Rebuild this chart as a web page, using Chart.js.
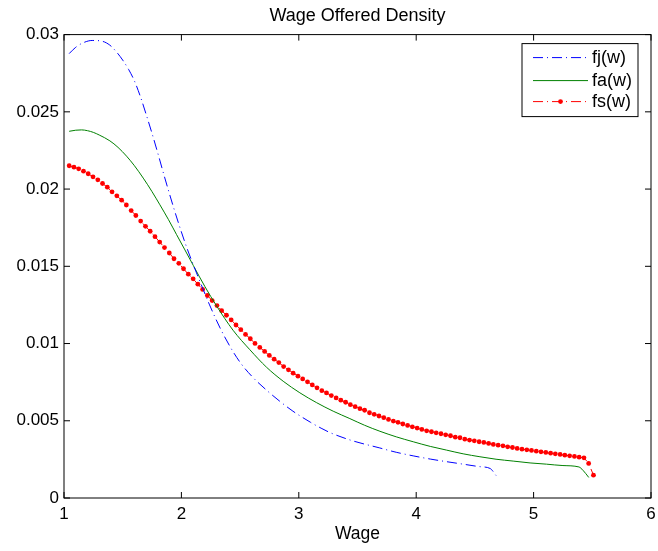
<!DOCTYPE html>
<html>
<head>
<meta charset="utf-8">
<script src="https://cdn.jsdelivr.net/npm/chart.js@4.4.0/dist/chart.umd.min.js"></script>
<style>
    body { margin: 0; background: #fff; }
    canvas { display: block; }
</style>
</head>
<body>
<canvas id="myChart" width="658" height="551"></canvas>
<script>
// data
const xTicks = [1, 2, 3, 4, 5, 6];
const yTicks = [0, 0.005, 0.01, 0.015, 0.02, 0.025, 0.03];

// fj(w): dash-dot blue
const fjWage = [1.044, 1.10, 1.16, 1.24, 1.32, 1.39, 1.45, 1.50, 1.55, 1.60, 1.65, 1.70, 1.75, 1.80, 1.85, 1.90, 1.95, 2.00, 2.05, 2.10,
    2.16, 2.24, 2.33, 2.43, 2.51, 2.61, 2.73, 2.84, 2.95, 3.10, 3.19, 3.27, 3.46, 3.69, 3.83, 3.98, 4.12, 4.26, 4.40, 4.54, 4.63, 4.68];
const fjW = [0.02877, 0.02918, 0.02946, 0.02962, 0.02958, 0.02932, 0.02885, 0.02835, 0.02775, 0.02700, 0.02600, 0.02483, 0.02360, 0.02230, 0.02095, 0.01965, 0.01840, 0.01722, 0.01612, 0.01512,
    0.01398, 0.01250, 0.01100, 0.00960, 0.00868, 0.00780, 0.00695, 0.00625, 0.00562, 0.00490, 0.00452, 0.00422, 0.00370, 0.00324, 0.00296, 0.00272, 0.00252, 0.00235, 0.00219, 0.00203, 0.00191, 0.00146];

// fa(w): solid green
const faWage = [1.044, 1.10, 1.15, 1.20, 1.25, 1.30, 1.391, 1.46, 1.533, 1.60, 1.675, 1.75, 1.817, 1.89, 1.959, 2.03, 2.101, 2.20, 2.30, 2.44,
    2.583, 2.726, 2.867, 3.009, 3.152, 3.293, 3.435, 3.56, 3.691, 3.83, 3.975, 4.12, 4.259, 4.40, 4.543, 4.68, 4.826, 4.97, 5.11, 5.25,
    5.386, 5.42, 5.47];
const faW = [0.02374, 0.02381, 0.02383, 0.02378, 0.02367, 0.02350, 0.02312, 0.02270, 0.02213, 0.02151, 0.02071, 0.01983, 0.01898, 0.01802, 0.01705, 0.01606, 0.01506, 0.01369, 0.01243, 0.01086,
    0.00960, 0.00846, 0.00756, 0.00681, 0.00617, 0.00562, 0.00514, 0.00471, 0.00432, 0.00396, 0.00364, 0.00334, 0.00310, 0.00286, 0.00267, 0.00251, 0.00239, 0.00227, 0.00219, 0.00210,
    0.00201, 0.00180, 0.00133];

// fs(w): red dash-dot with dot markers
const fsWage = [1.044, 1.085, 1.125, 1.166, 1.206, 1.247, 1.288, 1.328, 1.369, 1.409,
    1.450, 1.491, 1.531, 1.572, 1.612, 1.653, 1.694, 1.734, 1.775, 1.815,
    1.856, 1.897, 1.937, 1.978, 2.018, 2.059, 2.100, 2.140, 2.181, 2.221,
    2.262, 2.303, 2.343, 2.384, 2.424, 2.465, 2.506, 2.546, 2.587, 2.627,
    2.668, 2.709, 2.749, 2.790, 2.830, 2.871, 2.912, 2.952, 2.993, 3.033,
    3.074, 3.115, 3.155, 3.196, 3.236, 3.277, 3.318, 3.358, 3.399, 3.439,
    3.480, 3.521, 3.561, 3.602, 3.642, 3.683, 3.724, 3.764, 3.805, 3.845,
    3.886, 3.927, 3.967, 4.008, 4.048, 4.089, 4.130, 4.170, 4.211, 4.251,
    4.292, 4.333, 4.373, 4.414, 4.454, 4.495, 4.536, 4.576, 4.617, 4.657,
    4.698, 4.739, 4.779, 4.820, 4.860, 4.901, 4.942, 4.982, 5.023, 5.063,
    5.104, 5.145, 5.185, 5.226, 5.266, 5.307, 5.348, 5.388, 5.429, 5.469, 5.510];
const fsW = [0.02151, 0.02142, 0.02131, 0.02116, 0.02099, 0.02079, 0.02060, 0.02036, 0.02012, 0.01982,
    0.01956, 0.01928, 0.01897, 0.01861, 0.01829, 0.01793, 0.01759, 0.01727, 0.01692, 0.01657,
    0.01621, 0.01586, 0.01549, 0.01519, 0.01484, 0.01449, 0.01419, 0.01384, 0.01350, 0.01311,
    0.01278, 0.01246, 0.01213, 0.01183, 0.01153, 0.01120, 0.01090, 0.01059, 0.01031, 0.01001,
    0.00975, 0.00949, 0.00923, 0.00899, 0.00877, 0.00851, 0.00830, 0.00808, 0.00789, 0.00771,
    0.00752, 0.00732, 0.00713, 0.00695, 0.00680, 0.00663, 0.00648, 0.00633, 0.00620, 0.00604,
    0.00591, 0.00578, 0.00568, 0.00552, 0.00542, 0.00531, 0.00520, 0.00509, 0.00498, 0.00490,
    0.00479, 0.00470, 0.00461, 0.00453, 0.00444, 0.00435, 0.00429, 0.00422, 0.00416, 0.00409,
    0.00403, 0.00394, 0.00390, 0.00381, 0.00375, 0.00370, 0.00364, 0.00360, 0.00353, 0.00347,
    0.00342, 0.00338, 0.00331, 0.00327, 0.00321, 0.00316, 0.00312, 0.00308, 0.00303, 0.00299,
    0.00295, 0.00290, 0.00286, 0.00282, 0.00277, 0.00273, 0.00269, 0.00264, 0.00260, 0.00224, 0.00148];

const toPoints = (xs, ys) => xs.map((v, i) => ({x: v, y: ys[i]}));
const fontFamily = "'Liberation Sans', Arial, Helvetica, sans-serif";

// matlab style box, inward ticks and framed legend
const matlabFrame = {
    id: 'matlabFrame',
    afterDraw(chart) {
        const {ctx, chartArea: a, scales: {x, y}} = chart;
        ctx.save();
        ctx.strokeStyle = '#000';
        ctx.lineWidth = 1;
        ctx.strokeRect(a.left, a.top, a.right - a.left, a.bottom - a.top);
        const t = 6;
        ctx.beginPath();
        x.ticks.forEach(tk => {
            const px = x.getPixelForValue(tk.value);
            ctx.moveTo(px, a.bottom); ctx.lineTo(px, a.bottom - t);
            ctx.moveTo(px, a.top); ctx.lineTo(px, a.top + t);
        });
        y.ticks.forEach(tk => {
            const py = y.getPixelForValue(tk.value);
            ctx.moveTo(a.left, py); ctx.lineTo(a.left + t, py);
            ctx.moveTo(a.right, py); ctx.lineTo(a.right - t, py);
        });
        ctx.stroke();

        // legend
        const bw = 116, bh = 73;
        const bx = a.right - 13 - bw, by = a.top + 9;
        ctx.fillStyle = '#fff';
        ctx.fillRect(bx, by, bw, bh);
        ctx.strokeRect(bx, by, bw, bh);
        const rows = [14, 37, 58];
        ctx.font = '18px ' + fontFamily;
        ctx.textBaseline = 'middle';
        chart.data.datasets.forEach((ds, i) => {
            const ly = by + rows[i];
            ctx.strokeStyle = ds.borderColor;
            ctx.lineWidth = 1;
            ctx.setLineDash(ds.borderDash || []);
            ctx.beginPath();
            ctx.moveTo(bx + 11, ly);
            ctx.lineTo(bx + 66, ly);
            ctx.stroke();
            ctx.setLineDash([]);
            if (ds.pointRadius > 0) {
                ctx.fillStyle = ds.pointBackgroundColor;
                ctx.beginPath();
                ctx.arc(bx + 38.5, ly, ds.pointRadius, 0, Math.PI * 2);
                ctx.fill();
            }
            ctx.fillStyle = '#000';
            ctx.fillText(ds.label, bx + 70, ly);
        });
        ctx.restore();
    }
};

new Chart(document.getElementById('myChart'), {
    type: 'line',
    data: {
        datasets: [
            {
                label: 'fj(w)',
                data: toPoints(fjWage, fjW),
                borderColor: 'rgb(0, 0, 255)',
                borderWidth: 1,
                borderDash: [10, 4, 1, 4],
                pointRadius: 0,
                cubicInterpolationMode: 'monotone'
            },
            {
                label: 'fa(w)',
                data: toPoints(faWage, faW),
                borderColor: 'rgb(0, 128, 0)',
                borderWidth: 1,
                pointRadius: 0,
                cubicInterpolationMode: 'monotone'
            },
            {
                label: 'fs(w)',
                data: toPoints(fsWage, fsW),
                borderColor: 'rgb(255, 0, 0)',
                borderWidth: 1,
                borderDash: [10, 4, 1, 4],
                pointRadius: 2.4,
                pointBorderWidth: 0,
                pointBackgroundColor: 'rgb(255, 0, 0)'
            }
        ]
    },
    options: {
        responsive: false,
        animation: false,
        layout: {
            padding: {top: 0, right: 0, bottom: 0, left: 0}
        },
        scales: {
            x: {
                type: 'linear',
                min: 1,
                max: 6,
                afterBuildTicks: s => { s.ticks = xTicks.map(v => ({value: v})); },
                afterFit: s => { s.height = 53; s.paddingRight = 7; s.paddingLeft = 0; },
                grid: {display: false, drawTicks: false},
                border: {display: false},
                ticks: {
                    color: '#000',
                    padding: 6,
                    font: {family: fontFamily, size: 17},
                    callback: v => String(v)
                },
                title: {
                    display: true,
                    text: 'Wage',
                    color: '#000',
                    font: {family: fontFamily, size: 17.5},
                    padding: {top: 0, bottom: 6}
                }
            },
            y: {
                type: 'linear',
                min: 0,
                max: 0.03,
                afterBuildTicks: s => { s.ticks = yTicks.map(v => ({value: v})); },
                afterFit: s => { s.width = 64; },
                grid: {display: false, drawTicks: false},
                border: {display: false},
                ticks: {
                    color: '#000',
                    padding: 5,
                    font: {family: fontFamily, size: 17},
                    callback: v => String(+v.toFixed(3))
                }
            }
        },
        plugins: {
            legend: {display: false},
            tooltip: {enabled: false},
            title: {
                display: true,
                text: 'Wage Offered Density',
                color: '#000',
                fullSize: false,
                font: {family: fontFamily, size: 18, weight: 'normal'},
                padding: {top: 5, bottom: 8}
            }
        }
    },
    plugins: [matlabFrame]
});
</script>
</body>
</html>
